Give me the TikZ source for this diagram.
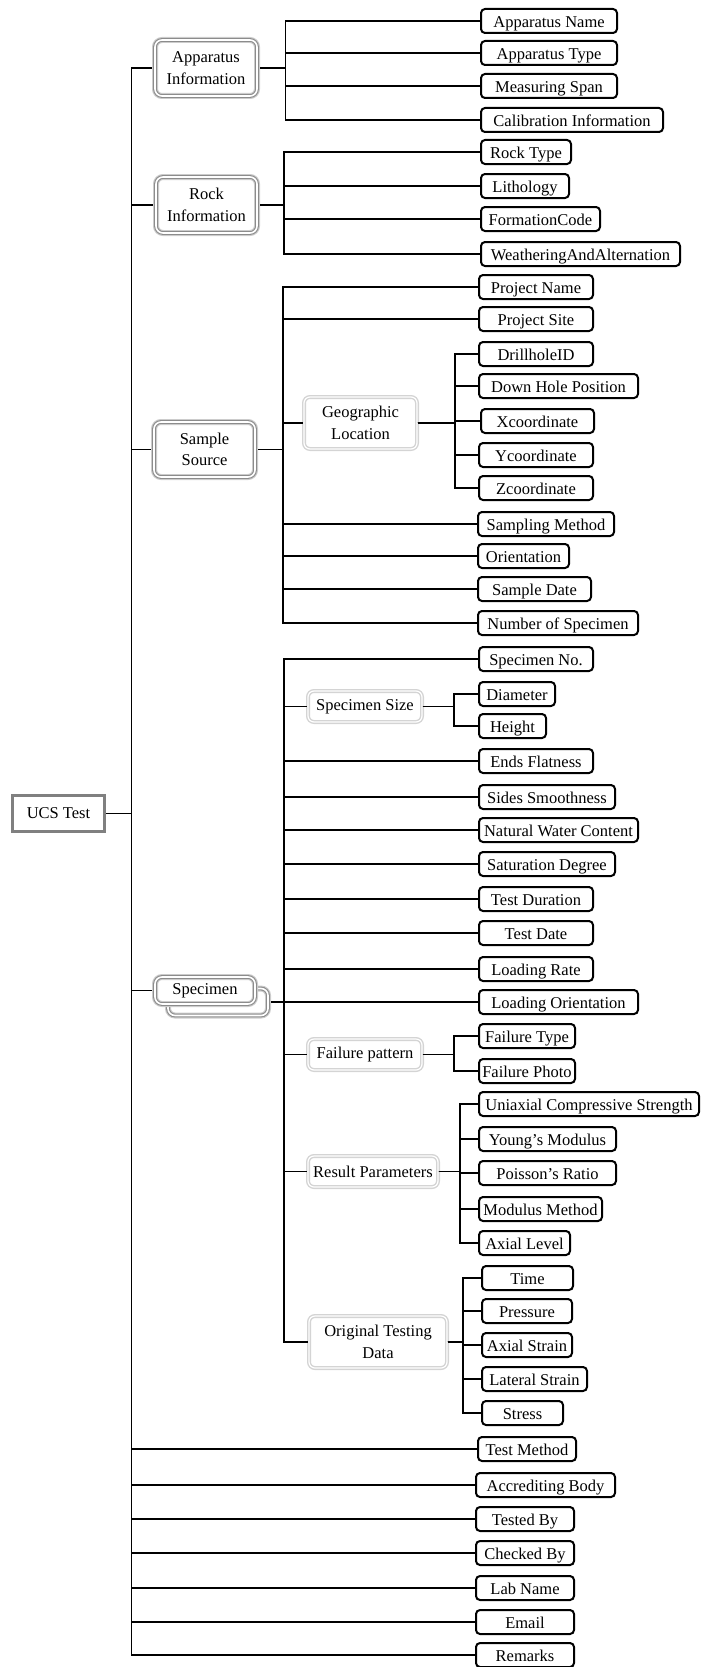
\documentclass[tikz,border=0pt]{standalone}
\usepackage{fontspec}
\setmainfont{Liberation Serif}
\newcommand\leafbox[5]{\node[leaf, minimum width=#4pt] (#1) at (#2,#3) {#5};}
\begin{document}
\begin{tikzpicture}[x=1pt, y=-1pt, font=\fontsize{16.5}{21.5}\selectfont]
\tikzset{
  link/.style={draw=black, line width=1.5pt},
  leaf/.style={draw=black, line width=2pt, rounded corners=4pt, fill=white, inner sep=0pt,
    minimum height=24pt, text height=14.5pt, text depth=2pt, anchor=west},
  grp/.style={fill=white, draw=black!20, line width=6pt, rounded corners=7pt, inner sep=0pt,
    align=center, postaction={draw=black!45, line width=1.1pt, double=white, double distance=1.6pt}},
  sub/.style={fill=white, draw=black!17, line width=1.4pt, double=white, double distance=1.2pt,
    rounded corners=6pt, inner sep=0pt, align=center},
  root/.style={fill=white, draw=black!50, line width=3pt, inner sep=0pt},
}
\useasboundingbox (0,0) rectangle (705,1667);

% root
\node[root, minimum width=92pt, minimum height=36pt] (ucs) at (58.5,813.5) {UCS Test};

% first level groups
\node[grp, minimum width=102pt, minimum height=56pt] (app) at (206,68) {Apparatus\\Information};
\node[grp, minimum width=101pt, minimum height=56pt] (rock) at (206.5,205) {Rock\\Information};
\node[grp, minimum width=101pt, minimum height=55pt] (src) at (204.5,449.5) {Sample\\Source};
\node[grp, minimum width=100pt, minimum height=27pt] (specb) at (218,1002) {};
\node[grp, minimum width=100pt, minimum height=27pt] (spec) at (205,990.5) {Specimen};

% second level groups
\node[sub, minimum width=113pt, minimum height=52pt] (geo) at (360.5,423) {Geographic\\Location};
\node[sub, minimum width=114pt, minimum height=31pt] (size) at (365,706.5) {Specimen Size};
\node[sub, minimum width=114pt, minimum height=31pt] (fail) at (365,1054.5) {Failure pattern};
\node[sub, minimum width=130pt, minimum height=31pt] (res) at (373,1171.5) {Result Parameters};
\node[sub, minimum width=138pt, minimum height=52pt] (otd) at (378,1342) {Original Testing\\Data};

% apparatus
\leafbox{an}{480}{21}{136}{Apparatus Name}
\leafbox{at}{480}{53}{136}{Apparatus Type}
\leafbox{ms}{480}{86}{136}{Measuring Span}
\leafbox{ci}{480}{120}{182}{Calibration Information}
% rock
\leafbox{rt}{480}{152}{90}{Rock Type}
\leafbox{li}{480}{186}{88}{Lithology}
\leafbox{fc}{480}{219}{119}{FormationCode}
\leafbox{wa}{480}{254}{199}{WeatheringAndAlternation}
% sample source
\leafbox{pn}{478}{287}{114}{Project Name}
\leafbox{ps}{478}{319}{114}{Project Site}
\leafbox{dh}{478}{354}{114}{DrillholeID}
\leafbox{dp}{478}{386}{159}{Down Hole Position}
\leafbox{xc}{480}{421}{113}{Xcoordinate}
\leafbox{yc}{478}{455}{114}{Ycoordinate}
\leafbox{zc}{478}{488}{114}{Zcoordinate}
\leafbox{sm}{477}{524}{136}{Sampling Method}
\leafbox{ori}{477}{556}{91}{Orientation}
\leafbox{sd}{477}{589}{113}{Sample Date}
\leafbox{nos}{477}{623}{160}{Number of Specimen}
% specimen
\leafbox{sno}{478}{659}{114}{Specimen No.}
\leafbox{dia}{478}{694}{76}{Diameter}
\leafbox{hei}{478}{726}{67}{Height}
\leafbox{ef}{478}{761}{114}{Ends Flatness}
\leafbox{ss}{478}{797}{136}{Sides Smoothness}
\leafbox{nwc}{478}{830}{159}{Natural Water Content}
\leafbox{sdeg}{478}{864}{136}{Saturation Degree}
\leafbox{tdu}{478}{899}{114}{Test Duration}
\leafbox{tda}{478}{933}{114}{Test Date}
\leafbox{lr}{478}{969}{114}{Loading Rate}
\leafbox{lo}{478}{1002}{159}{Loading Orientation}
\leafbox{ft}{478}{1036}{96}{Failure Type}
\leafbox{fp}{478}{1071}{96}{Failure Photo}
\leafbox{ucsr}{478}{1104}{220}{Uniaxial Compressive Strength}
\leafbox{ym}{478}{1139}{137}{Young’s Modulus}
\leafbox{pr}{478}{1173}{137}{Poisson’s Ratio}
\leafbox{mm}{478}{1209}{123}{Modulus Method}
\leafbox{al}{478}{1243}{91}{Axial Level}
\leafbox{tim}{481}{1278}{91}{Time}
\leafbox{pre}{481}{1311}{90}{Pressure}
\leafbox{as}{481}{1345}{90}{Axial Strain}
\leafbox{ls}{481}{1379}{105}{Lateral Strain}
\leafbox{str}{481}{1413}{81}{Stress}
% general
\leafbox{tm}{477}{1449}{98}{Test Method}
\leafbox{ab}{475}{1485}{139}{Accrediting Body}
\leafbox{tb}{475}{1519}{98}{Tested By}
\leafbox{cb}{475}{1553}{98}{Checked By}
\leafbox{ln}{475}{1588}{98}{Lab Name}
\leafbox{em}{475}{1622}{98}{Email}
\leafbox{rem}{475}{1655}{98}{Remarks}

% bus positions
\coordinate (mb) at (131.5,0);
\coordinate (bA) at (285.5,0);
\coordinate (bR) at (284,0);
\coordinate (bS) at (283,0);
\coordinate (bG) at (455,0);
\coordinate (bP) at (284,0);
\coordinate (bZ) at (454,0);
\coordinate (bF) at (454,0);
\coordinate (bE) at (460,0);
\coordinate (bO) at (463,0);

% connectors
\foreach \c in {app,rock,src,spec,tm,ab,tb,cb,ln,em,rem}
  \draw[link] (ucs.east) -- (ucs.east -| mb) |- (\c.west);
\foreach \c in {an,at,ms,ci}
  \draw[link] (app.east) -- (app.east -| bA) |- (\c.west);
\foreach \c in {rt,li,fc,wa}
  \draw[link] (rock.east) -- (rock.east -| bR) |- (\c.west);
\foreach \c in {pn,ps,geo,sm,ori,sd,nos}
  \draw[link] (src.east) -- (src.east -| bS) |- (\c.west);
\foreach \c in {dh,dp,xc,yc,zc}
  \draw[link] (geo.east) -- (geo.east -| bG) |- (\c.west);
\foreach \c in {sno,size,ef,ss,nwc,sdeg,tdu,tda,lr,lo,fail,res,otd}
  \draw[link] (specb.east) -- (specb.east -| bP) |- (\c.west);
\foreach \c in {dia,hei}
  \draw[link] (size.east) -- (size.east -| bZ) |- (\c.west);
\foreach \c in {ft,fp}
  \draw[link] (fail.east) -- (fail.east -| bF) |- (\c.west);
\foreach \c in {ucsr,ym,pr,mm,al}
  \draw[link] (res.east) -- (res.east -| bE) |- (\c.west);
\foreach \c in {tim,pre,as,ls,str}
  \draw[link] (otd.east) -- (otd.east -| bO) |- (\c.west);
\end{tikzpicture}
\end{document}
